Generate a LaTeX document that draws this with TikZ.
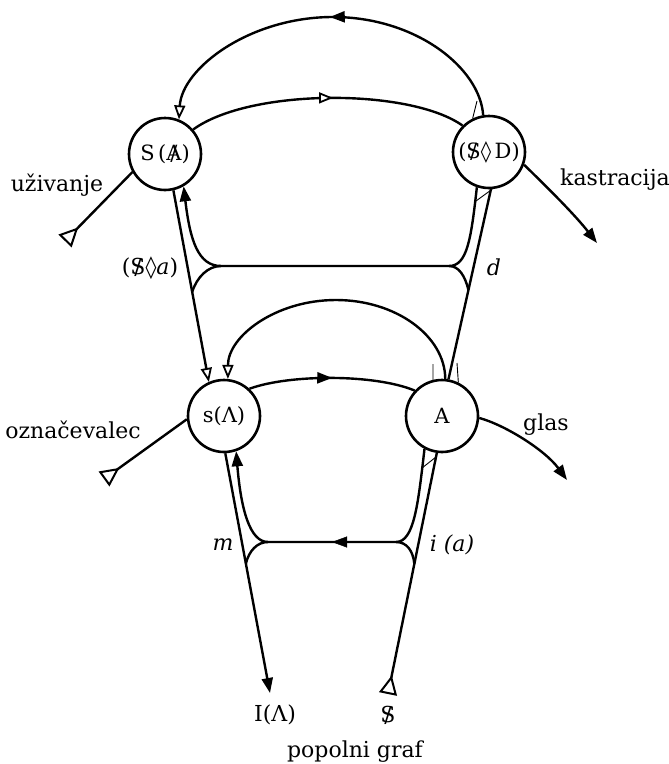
\documentclass[tikz,border=0pt]{standalone}
\usepackage{fontspec}
\setmainfont{DejaVu Serif}
\newfontfamily\symf{DejaVu Sans}
\usetikzlibrary{arrows.meta,decorations.markings}
\newcommand{\barS}{\ooalign{S\cr\hidewidth/\hidewidth\cr}}
\newcommand{\barA}{\ooalign{A\cr\hidewidth/\hidewidth\cr}}
\newcommand{\loz}{{\symf\char"25CA}}
\tikzset{
  fTri/.tip={Triangle[length=15pt,width=11pt]},
  oTri/.tip={Triangle[fill=white,length=14pt,width=11pt,line width=1.8pt]},
  tailTri/.tip={Triangle[fill=white,reversed,length=19pt,width=18pt,line width=2pt]},
  nd/.style={circle,draw,line width=2.6pt,minimum size=72pt,inner sep=0pt,font=\fontsize{21}{24}\selectfont},
  ln/.style={line width=2.4pt},
  thinln/.style={line width=0.9pt},
  lbl/.style={font=\fontsize{22}{25}\selectfont,inner sep=0pt},
  ilbl/.style={font=\fontsize{22}{25}\selectfont\itshape,inner sep=0pt},
  midarrow/.style={postaction={decorate},decoration={markings,mark=at position #1 with {\arrow{fTri}}}},
  midopen/.style={postaction={decorate},decoration={markings,mark=at position #1 with {\arrow{oTri}}}},
}
\begin{document}
\begin{tikzpicture}[x=1pt,y=-1pt]
\useasboundingbox (0,0) rectangle (669,764);
% nodes
\node[nd] (SA) at (165,154) {S\,(\barA)};
\node[nd] (SD) at (489,152) {(\barS\loz\,D)};
\node[nd] (sL) at (224,416) {s(Λ)};
\node[nd] (A) at (442,416) {A};
% coordinates
\coordinate (JUR) at (449,266);
\coordinate (JUL) at (221,266);
\coordinate (JLR) at (396,542);
\coordinate (JLL) at (268,542);
\coordinate (Itip) at (270,693);
\coordinate (Sbar) at (388,694);
\coordinate (uzT) at (65,241);
\coordinate (ozT) at (104,479);
\coordinate (kaT) at (597,243);
\coordinate (glT) at (567,480);
\path (SD.-87) -- (A.80) coordinate[pos=0.53] (dF);
\path (SA.-77) -- (sL.114) coordinate[pos=0.53] (aF);
\path (sL.-88) -- (Itip) coordinate[pos=0.46] (mF);
\path (Sbar) -- (A.-98) coordinate[pos=0.54] (iF);
% upper level
\draw[ln,midarrow=0.5,-{oTri}] (SD.99) .. controls (480,68) and (416,17) .. (333,17) .. controls (250,17) and (182,68) .. (SA.68);
\draw[ln,midopen=0.52] (SA.41) .. controls (250,88) and (410,88) .. (SD.135);
\draw[ln,-{fTri}] (SD.-20) .. controls (550,190) and (575,215) .. (kaT);
\draw[ln,{tailTri}-] (uzT) -- (SA.209);
% upper bridge
\draw[ln] (SD.-87) -- (A.80);
\draw[ln,-{fTri}] (SD.-109) .. controls (471,240) and (467,266) .. (JUR) -- (JUL) .. controls (198,266) and (190,240) .. (SA.-60);
\draw[ln] (JUR) .. controls (459,266) and (465,276) .. (dF);
\draw[ln] (JUL) .. controls (208,266) and (197,277) .. (aF);
\draw[ln,-{oTri}] (SA.-77) -- (sL.114);
% lower level
\draw[ln,-{oTri}] (A.85) .. controls (445,336) and (396,300) .. (336,300) .. controls (276,300) and (228,336) .. (sL.84);
\draw[ln,midarrow=0.5] (sL.47) .. controls (290,374) and (375,374) .. (A.137);
\draw[ln,{tailTri}-] (ozT) -- (sL.185);
\draw[ln,-{fTri}] (A.-3) .. controls (505,425) and (545,450) .. (glT);
% lower bridge
\draw[ln,-{fTri}] (A.-118) .. controls (418,505) and (414,542) .. (JLR) -- (JLL) .. controls (250,542) and (241,510) .. (sL.-71);
\path[midarrow=0.5] (JLR) -- (JLL);
\draw[ln] (JLL) .. controls (257,542) and (249,551) .. (mF);
\draw[ln] (JLR) .. controls (407,542) and (413,551) .. (iF);
\draw[ln,-{fTri}] (sL.-88) -- (Itip);
\draw[ln,{tailTri}-] (Sbar) -- (A.-98);
% small wedges
\draw[thinln] (SD.116) -- (477,101);
\draw[thinln] (476,201) -- (SD.-85);
\draw[thinln] (433,364) -- (A.104);
\draw[thinln] (457,363) -- (A.64);
\draw[thinln] (422,468) -- (436,457);
% labels
\node[lbl] (luz) at (57,185) {uživanje};
\node[lbl,anchor=west] (lka) at (560,180) {kastracija};
\node[lbl] (loz) at (73,430) {označevalec};
\node[lbl] (lgl) at (546,425) {glas};
\node[lbl] (lsa) at (150,268) {(\barS\loz{\itshape a})};
\node[ilbl] (ld) at (494,267) {d};
\node[ilbl] (lm) at (223,545) {m};
\node[ilbl] (lia) at (452,545) {i (a)};
\node[lbl] (lI) at (275,715) {I(Λ)};
\node[lbl] (lS) at (388,715) {\barS};
\node[lbl] (lpg) at (355,752) {popolni graf};
\end{tikzpicture}
\end{document}
